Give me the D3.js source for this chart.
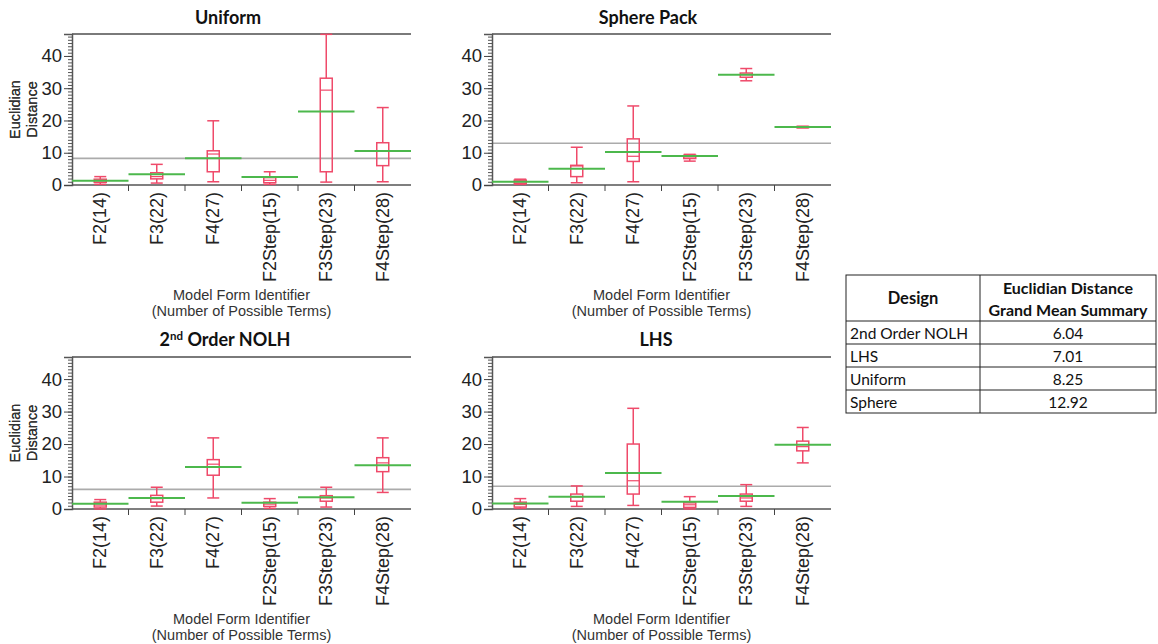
<!DOCTYPE html>
<html><head><meta charset="utf-8">
<script src="https://cdn.jsdelivr.net/npm/d3@7"></script>
<style>
body{margin:0;background:#fff;}
svg{display:block;}
</style></head>
<body>
<svg id="chart" width="1158" height="644"></svg>
<script>
const categories = ["F2(14)","F3(22)","F4(27)","F2Step(15)","F3Step(23)","F4Step(28)"];
const designs = ["Uniform","Sphere Pack","2nd Order NOLH","LHS"];
// [min, q1, median, q3, max] per category
const uniformBox = [[0.2,0.8,1.3,1.8,2.6],[0.6,1.9,2.6,3.8,6.4],[1.0,4.1,9.6,10.6,19.9],[0.2,0.7,1.45,2.3,4.1],[0.9,4.1,29.4,33.1,46.7],[1.0,6.0,10.5,13.1,24.0]];
const uniformMean = [1.3,3.3,8.3,2.5,22.8,10.5];
const sphereBox = [[0.2,0.5,1.0,1.5,1.8],[0.7,2.6,5.9,6.1,11.7],[1.0,7.3,8.9,14.3,24.5],[7.4,8.2,8.7,9.2,9.5],[32.3,33.4,34.2,34.7,36.1],[17.7,17.8,18.0,18.1,18.2]];
const sphereMean = [1.0,5.0,10.2,9.0,34.2,18.0];
const nolhBox = [[0.0,0.6,1.2,2.1,2.9],[0.9,2.1,3.2,4.2,6.7],[3.4,10.4,13.8,15.2,21.9],[0.2,0.8,1.5,2.1,3.2],[0.6,2.4,3.4,4.1,6.7],[5.1,11.5,14.2,15.8,21.9]];
const nolhMean = [1.6,3.4,12.9,1.9,3.6,13.5];
const lhsBox = [[0.2,0.6,1.4,2.1,3.2],[0.8,2.4,3.7,4.6,7.1],[1.1,4.6,8.7,20.0,31.0],[0.0,0.5,1.3,1.9,3.8],[0.8,2.4,3.4,4.6,7.5],[14.2,17.9,19.2,20.9,25.1]];
const lhsMean = [1.7,3.8,11.1,2.2,4.0,19.8];
const grandMeans = [8.25,12.92,6.04,7.01];
const yTicks = [0,10,20,30,40];
const tableDesigns = ["2nd Order NOLH","LHS","Uniform","Sphere"];
const tableValues = ["6.04","7.01","8.25","12.92"];

const boxes = [uniformBox, sphereBox, nolhBox, lhsBox];
const means = [uniformMean, sphereMean, nolhMean, lhsMean];

const svg = d3.select("#chart");
const font = "'Liberation Sans', Arial, sans-serif";
const titleFont = "Lato, 'Open Sans', sans-serif";

const panels = [
  {left:72, right:411, top:34, bottom:185, titleX:228, titleY:24},
  {left:492, right:831, top:34, bottom:185, titleX:648, titleY:24},
  {left:72, right:411, top:357, bottom:509, titleX:225, titleY:346},
  {left:492, right:831, top:357, bottom:509, titleX:656, titleY:346}
];

const boxColor = "#ef4a6a";
const meanColor = "#4cb84c";

panels.forEach((p, i) => {
  const g = svg.append("g");
  const x = d3.scaleBand().domain(categories).range([p.left, p.right]);
  const y = d3.scaleLinear().domain([0, 46.8]).range([p.bottom, p.top]);

  // title
  const t = g.append("text").attr("x", p.titleX).attr("y", p.titleY)
    .attr("text-anchor","middle").attr("font-family", titleFont)
    .attr("font-weight","bold").attr("font-size", 18).attr("fill","#111");
  if (designs[i] === "2nd Order NOLH") {
    t.append("tspan").text("2");
    t.append("tspan").text("nd").attr("font-size", 11.5).attr("dy", -6);
    t.append("tspan").text(" Order NOLH").attr("dy", 6);
  } else {
    t.text(designs[i]);
  }

  // grand mean line
  g.append("line").attr("x1", p.left).attr("x2", p.right)
    .attr("y1", y(grandMeans[i])).attr("y2", y(grandMeans[i]))
    .attr("stroke","#ababab").attr("stroke-width",1.6);

  // top border
  g.append("line").attr("x1", p.left).attr("x2", p.right)
    .attr("y1", p.top).attr("y2", p.top)
    .attr("stroke","#7a7a7a").attr("stroke-width",2);

  // y axis minor
  g.append("g").attr("transform", `translate(${p.left},0)`)
    .call(d3.axisLeft(y).tickValues(d3.range(0, 47, 1)).tickSize(4).tickFormat(""))
    .call(a => a.select(".domain").remove())
    .call(a => a.selectAll("line").attr("stroke","#555"));
  // y axis major
  g.append("g").attr("transform", `translate(${p.left},0)`)
    .call(d3.axisLeft(y).tickValues(yTicks).tickSize(8).tickPadding(2).tickFormat(d3.format("d")))
    .call(a => a.select(".domain").attr("stroke","#555").attr("stroke-width",1.5))
    .call(a => a.selectAll("line").attr("stroke","#444"))
    .call(a => a.selectAll("text").attr("font-family", font).attr("font-size", 18.5).attr("fill","#222"));

  // x axis
  const xa = g.append("g").attr("transform", `translate(0,${p.bottom})`);
  xa.append("line").attr("x1", p.left).attr("x2", p.right).attr("y1",0).attr("y2",0)
    .attr("stroke","#555").attr("stroke-width",1.5);
  xa.selectAll(".sep").data(categories.slice(1)).join("line")
    .attr("x1", d => x(d)).attr("x2", d => x(d)).attr("y1",0).attr("y2",6)
    .attr("stroke","#444");
  xa.selectAll(".lbl").data(categories).join("text")
    .attr("transform", d => `translate(${x(d)+x.bandwidth()/2},7) rotate(-90)`)
    .attr("text-anchor","end").attr("dominant-baseline","central")
    .attr("font-family", font).attr("font-size", 18).attr("fill","#222")
    .text(d => d);

  // x title
  g.append("text").attr("x", (p.left+p.right)/2).attr("y", p.bottom+115)
    .attr("text-anchor","middle").attr("font-family", font).attr("font-size", 14.5).attr("fill","#333")
    .text("Model Form Identifier");
  g.append("text").attr("x", (p.left+p.right)/2).attr("y", p.bottom+131)
    .attr("text-anchor","middle").attr("font-family", font).attr("font-size", 14.5).attr("fill","#333")
    .text("(Number of Possible Terms)");

  // y title
  const cy = (p.top+p.bottom)/2;
  g.append("text").attr("transform", `translate(20,${cy}) rotate(-90)`)
    .attr("text-anchor","middle").attr("font-family", font).attr("font-size", 14.5).attr("fill","#333")
    .text("Euclidian");
  g.append("text").attr("transform", `translate(37,${cy}) rotate(-90)`)
    .attr("text-anchor","middle").attr("font-family", font).attr("font-size", 14.5).attr("fill","#333")
    .text("Distance");

  // boxes
  const bw = 12;
  const data = categories.map((c, k) => ({c, b: boxes[i][k], m: means[i][k]}));
  const bg = g.selectAll(".box").data(data).join("g");
  const cx = d => x(d.c) + x.bandwidth()/2;
  bg.append("line").attr("x1", cx).attr("x2", cx)
    .attr("y1", d => y(d.b[0])).attr("y2", d => y(d.b[1])).attr("stroke", boxColor).attr("stroke-width",1.5);
  bg.append("line").attr("x1", cx).attr("x2", cx)
    .attr("y1", d => y(d.b[3])).attr("y2", d => y(d.b[4])).attr("stroke", boxColor).attr("stroke-width",1.5);
  bg.append("line").attr("x1", d => cx(d)-bw/2).attr("x2", d => cx(d)+bw/2)
    .attr("y1", d => y(d.b[0])).attr("y2", d => y(d.b[0])).attr("stroke", boxColor).attr("stroke-width",1.5);
  bg.append("line").attr("x1", d => cx(d)-bw/2).attr("x2", d => cx(d)+bw/2)
    .attr("y1", d => y(d.b[4])).attr("y2", d => y(d.b[4])).attr("stroke", boxColor).attr("stroke-width",1.5);
  bg.append("rect").attr("x", d => cx(d)-bw/2).attr("width", bw)
    .attr("y", d => y(d.b[3])).attr("height", d => Math.max(0.5, y(d.b[1]) - y(d.b[3])))
    .attr("fill","none").attr("stroke", boxColor).attr("stroke-width",1.5);
  bg.append("line").attr("x1", d => cx(d)-bw/2).attr("x2", d => cx(d)+bw/2)
    .attr("y1", d => y(d.b[2])).attr("y2", d => y(d.b[2])).attr("stroke", boxColor).attr("stroke-width",1.2);
  // mean line spans band
  bg.append("line").attr("x1", d => x(d.c)).attr("x2", d => x(d.c)+x.bandwidth())
    .attr("y1", d => y(d.m)).attr("y2", d => y(d.m)).attr("stroke", meanColor).attr("stroke-width",2);
});

// table
const tb = svg.append("g");
const tx0 = 846, tx1 = 980, tx2 = 1156;
const rowY = [275, 321, 344, 367, 390, 413];
const tfont = "Lato, 'Open Sans', sans-serif";
tb.append("rect").attr("x", tx0).attr("y", rowY[0]).attr("width", tx2-tx0).attr("height", rowY[5]-rowY[0])
  .attr("fill","none").attr("stroke","#222").attr("stroke-width",1);
tb.selectAll(".hl").data(rowY.slice(1,5)).join("line")
  .attr("x1", tx0).attr("x2", tx2).attr("y1", d=>d).attr("y2", d=>d).attr("stroke","#222").attr("stroke-width",1);
tb.append("line").attr("x1", tx1).attr("x2", tx1).attr("y1", rowY[0]).attr("y2", rowY[5]).attr("stroke","#222").attr("stroke-width",1);
tb.append("text").attr("x", (tx0+tx1)/2).attr("y", 304).attr("text-anchor","middle")
  .attr("font-family", tfont).attr("font-weight","bold").attr("font-size", 16.5).attr("fill","#111").text("Design");
tb.append("text").attr("x", (tx1+tx2)/2).attr("y", 294).attr("text-anchor","middle")
  .attr("font-family", tfont).attr("font-weight","bold").attr("font-size", 16).attr("fill","#111").text("Euclidian Distance");
tb.append("text").attr("x", (tx1+tx2)/2).attr("y", 316).attr("text-anchor","middle")
  .attr("font-family", tfont).attr("font-weight","bold").attr("font-size", 16).attr("fill","#111").text("Grand Mean Summary");
tableDesigns.forEach((d, k) => {
  const yc = (rowY[k+1]+rowY[k+2])/2;
  tb.append("text").attr("x", tx0+4).attr("y", yc).attr("dominant-baseline","central")
    .attr("font-family", tfont).attr("font-size", 15.5).attr("fill","#111").text(d);
  tb.append("text").attr("x", (tx1+tx2)/2).attr("y", yc).attr("dominant-baseline","central").attr("text-anchor","middle")
    .attr("font-family", tfont).attr("font-size", 15.5).attr("fill","#111").text(tableValues[k]);
});
</script>
</body></html>
